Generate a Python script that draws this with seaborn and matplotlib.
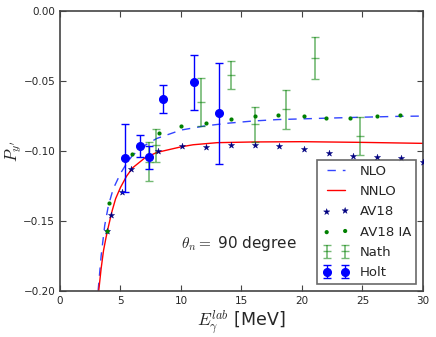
import numpy as np
import pandas as pd
import matplotlib
matplotlib.use("Agg")
import matplotlib.pyplot as plt
import seaborn as sns

# model curves
nlo_x = [3.15, 3.4, 3.7, 4.0, 4.4, 5.0, 5.5, 6.0, 7.0, 8.0, 9.0, 10, 12, 14, 16, 18, 20, 22, 25, 28, 30]
nlo_y = [-0.200, -0.175, -0.153, -0.139, -0.127, -0.116, -0.109, -0.103, -0.096, -0.091, -0.088,
         -0.085, -0.082, -0.080, -0.0785, -0.0775, -0.077, -0.0765, -0.0758, -0.0752, -0.075]
nnlo_x = [3.2, 3.4, 3.6, 3.8, 4.0, 4.3, 4.6, 5.0, 5.5, 6.0, 7.0, 8.0, 9.0, 10, 11, 13, 16, 20, 25, 30]
nnlo_y = [-0.200, -0.184, -0.171, -0.162, -0.154, -0.143, -0.134, -0.126, -0.118, -0.112, -0.105,
          -0.101, -0.099, -0.097, -0.0955, -0.094, -0.0935, -0.0933, -0.0938, -0.0945]

av18_x = [3.85, 4.2, 5.1, 5.9, 8.1, 10.1, 12.1, 14.1, 16.1, 18.1, 20.2, 22.2, 24.2, 26.2, 28.2, 30.0]
av18_y = [-0.157, -0.1457, -0.129, -0.113, -0.100, -0.0967, -0.0971, -0.0957, -0.0957, -0.0964,
          -0.0983, -0.1017, -0.1034, -0.104, -0.1052, -0.1076]

ia_x = [3.9, 4.05, 5.98, 8.15, 9.97, 12.04, 14.16, 16.14, 18.0, 20.17, 22.0, 24.0, 26.2, 28.1]
ia_y = [-0.157, -0.137, -0.102, -0.0871, -0.0824, -0.0798, -0.0771, -0.075, -0.0745, -0.0752,
        -0.0762, -0.0764, -0.075, -0.0745]

nath_x = [7.33, 7.9, 11.65, 14.13, 16.1, 18.7, 21.07, 24.8]
nath_y = [-0.1075, -0.096, -0.065, -0.046, -0.081, -0.070, -0.0338, -0.089]
nath_err = [0.014, 0.012, 0.017, 0.010, 0.0123, 0.0139, 0.015, 0.0136]

holt_x = [5.4, 6.65, 7.33, 8.54, 11.07, 13.17]
holt_y = [-0.105, -0.0964, -0.1045, -0.063, -0.051, -0.0731]
holt_err = [0.024, 0.008, 0.008, 0.010, 0.020, 0.036]

sns.set_style("ticks")
plt.rcParams.update({
    "font.family": ["DejaVu Sans"],
    "mathtext.fontset": "cm",
    "xtick.direction": "in",
    "ytick.direction": "in",
    "xtick.top": True,
    "ytick.right": True,
    "axes.edgecolor": "#444444",
    "axes.linewidth": 1.2,
})

fig = plt.figure(figsize=(4.36, 3.37), dpi=100)
ax = fig.add_axes([0.1376, 0.1365, 0.8324, 0.8305])

sns.lineplot(x=nlo_x, y=nlo_y, ax=ax, color="#3344ff", linestyle=(0, (6, 5)), lw=1.0,
             label="NLO", errorbar=None, sort=False)
sns.lineplot(x=nnlo_x, y=nnlo_y, ax=ax, color="red", lw=1.0,
             label="NNLO", errorbar=None, sort=False)
sns.scatterplot(x=av18_x, y=av18_y, ax=ax, marker="*", s=22, color="#000080",
                edgecolor="#000080", linewidth=0.3, label="AV18", zorder=3)
sns.scatterplot(x=ia_x, y=ia_y, ax=ax, marker="o", s=9, color="green",
                edgecolor="green", linewidth=0, label="AV18 IA", zorder=3)
ax.errorbar(nath_x, nath_y, yerr=nath_err, fmt="_", color="green", ms=6,
            capsize=3, elinewidth=1.2, alpha=0.55, label="Nath")
ax.errorbar(holt_x, holt_y, yerr=holt_err, fmt="o", color="blue", ms=5.5,
            capsize=3, elinewidth=1.0, label="Holt", zorder=4)

ax.set_xlim(0, 30)
ax.set_ylim(-0.20, 0.0)
ax.set_xticks(np.arange(0, 31, 5))
ax.set_yticks(np.arange(-0.20, 0.001, 0.05))
ax.set_yticklabels(["\u22120.20", "\u22120.15", "\u22120.10", "\u22120.05", "0.00"])
ax.tick_params(labelsize=7.5, length=4, width=0.8, color="#444444")

ax.set_xlabel(r"$E_\gamma^{lab}$ [MeV]", fontsize=12.5, labelpad=2)
ax.set_ylabel(r"$P_{y'}$", fontsize=12)
ax.yaxis.set_label_coords(-0.1, 0.5)

ax.text(10, -0.166, r"$\theta_n =$ 90 degree", fontsize=11, va="center", ha="left")

leg = ax.legend(loc="lower right", numpoints=2, scatterpoints=2, fontsize=9.5,
                fancybox=False, frameon=True, labelspacing=0.55, handlelength=2.0,
                borderaxespad=0.5)
leg.get_frame().set_edgecolor("#444444")
leg.get_frame().set_linewidth(1.2)

fig.savefig("out.png", dpi=100)
